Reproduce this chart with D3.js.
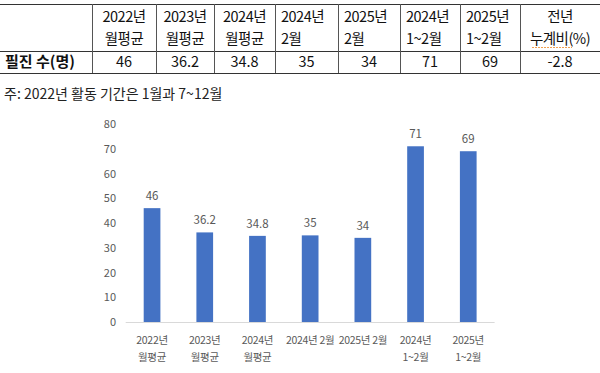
<!DOCTYPE html>
<html><head><meta charset="utf-8">
<script src="https://cdn.jsdelivr.net/npm/d3@7"></script>
<style>body{margin:0;background:#fff}svg{display:block}</style>
</head><body>
<svg id="c" width="600" height="373"></svg>
<script>
const tableHeaders1 = ["2022년","2023년","2024년","2024년","2025년","2024년","2025년","전년"];
const tableHeaders2 = ["월평균","월평균","월평균","2월","2월","1~2월","1~2월","누계비(%)"];
const tableValues = ["46","36.2","34.8","35","34","71","69","-2.8"];
const rowLabel = "필진 수(명)";
const note = "주: 2022년 활동 기간은 1월과 7~12월";
const categories = ["2022년\n월평균","2023년\n월평균","2024년\n월평균","2024년 2월","2025년 2월","2024년\n1~2월","2025년\n1~2월"];
const values = [46,36.2,34.8,35,34,71,69];
const yTicks = [0,10,20,30,40,50,60,70,80];

const svg = d3.select("#c");
const kfont = "'Noto Sans CJK KR','Noto Sans',sans-serif";

// table
const colX = [0,92,156,214,275,338,400,460,520,600];
const leftAlignCols = [3,4,5,6];
const t = svg.append("g");
[4,51,73].forEach(y=>t.append("line").attr("x1",0).attr("x2",600).attr("y1",y+0.5).attr("y2",y+0.5).attr("stroke","#333").attr("stroke-width",1));
colX.slice(1,-1).forEach(x=>t.append("line").attr("x1",x+0.5).attr("x2",x+0.5).attr("y1",4).attr("y2",73).attr("stroke","#555").attr("stroke-width",1));
t.append("text").attr("x",5).attr("y",67).attr("font-family",kfont).attr("font-size",15).attr("font-weight","bold").attr("fill","#111").text(rowLabel);
tableHeaders1.forEach((h,i)=>{
  const x0=colX[i+1], x1=colX[i+2];
  const left = leftAlignCols.includes(i);
  const tx = left ? x0+6 : (x0+x1)/2;
  const anchor = left ? "start" : "middle";
  t.append("text").attr("x",tx).attr("y",22).attr("text-anchor",anchor).attr("font-family",kfont).attr("font-size",14.5).attr("letter-spacing","-0.5").attr("fill","#111").text(h);
  t.append("text").attr("x",tx).attr("y",44).attr("text-anchor",anchor).attr("font-family",kfont).attr("font-size",14.5).attr("letter-spacing","-0.5").attr("fill","#111").text(tableHeaders2[i]);
  t.append("text").attr("x",(x0+x1)/2).attr("y",67).attr("text-anchor","middle").attr("font-family",kfont).attr("font-size",14.5).attr("fill","#111").text(tableValues[i]);
});
// spellcheck-like underline under 누계비
t.append("path").attr("d","M532,47.5 L572,47.5").attr("stroke","#f0a050").attr("stroke-width",1).attr("stroke-dasharray","2,1");

svg.append("text").attr("x",4).attr("y",99).attr("font-family",kfont).attr("font-size",14).attr("fill","#222").text(note);

// chart
const x = d3.scaleBand().domain(categories).range([125.7,494.6]).paddingInner(0.683).paddingOuter(0.3415);
const y = d3.scaleLinear().domain([0,80]).range([322,124]);
const g = svg.append("g");

yTicks.forEach(v=>{
  g.append("text").attr("x",116).attr("y",y(v)+4).attr("text-anchor","end").attr("font-family",kfont).attr("font-size",11).attr("fill","#595959").text(v);
});
g.selectAll("rect.bar").data(values).join("rect").attr("class","bar")
  .attr("x",(d,i)=>x(categories[i])).attr("width",x.bandwidth())
  .attr("y",d=>y(d)).attr("height",d=>y(0)-y(d)).attr("fill","#4472C4");
g.append("line").attr("x1",125.7).attr("x2",494.6).attr("y1",y(0)+0.5).attr("y2",y(0)+0.5).attr("stroke","#d9d9d9").attr("stroke-width",1);
g.selectAll("text.val").data(values).join("text").attr("class","val")
  .attr("x",(d,i)=>x(categories[i])+x.bandwidth()/2).attr("y",d=>y(d)-8)
  .attr("text-anchor","middle").attr("font-family",kfont).attr("font-size",11.5).attr("fill","#595959").text(d=>d);
categories.forEach(c=>{
  const lines=c.split("\n");
  const cx=x(c)+x.bandwidth()/2;
  lines.forEach((l,j)=>{
    g.append("text").attr("x",cx).attr("y",344+j*17).attr("text-anchor","middle").attr("font-family",kfont).attr("font-size",10.5).attr("letter-spacing","-0.3").attr("fill","#595959").text(l);
  });
});
</script>
</body></html>
